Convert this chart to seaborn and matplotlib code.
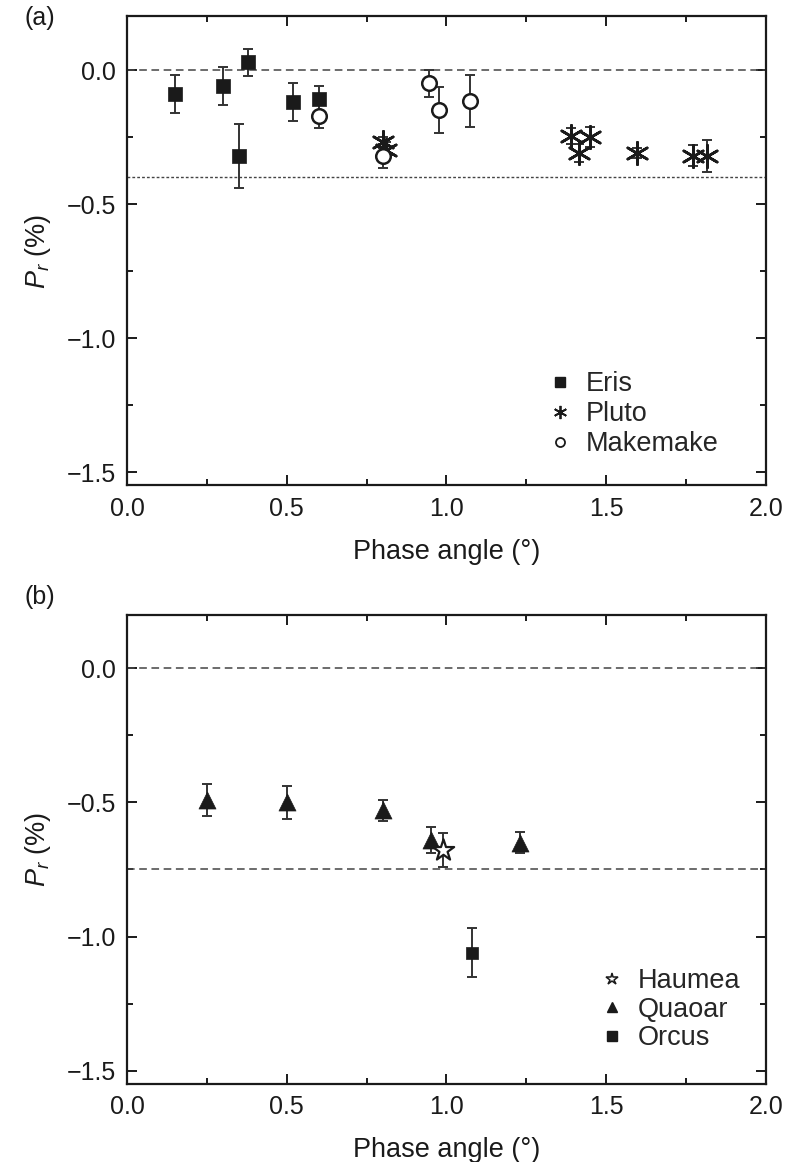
import matplotlib
matplotlib.use("Agg")
import matplotlib.pyplot as plt
from matplotlib.lines import Line2D
from matplotlib.ticker import MultipleLocator, FuncFormatter
import seaborn as sns
import pandas as pd

# ---------------- data ----------------
eris_x = [0.15, 0.30, 0.38, 0.35, 0.52, 0.60]
eris_y = [-0.09, -0.06, 0.028, -0.32, -0.12, -0.11]
eris_err = [0.07, 0.07, 0.05, 0.12, 0.07, 0.05]

pluto_x = [0.80, 0.81, 1.39, 1.415, 1.45, 1.595, 1.77, 1.815]
pluto_y = [-0.27, -0.30, -0.245, -0.31, -0.25, -0.31, -0.32, -0.32]
pluto_err = [0.02, 0.03, 0.03, 0.035, 0.037, 0.02, 0.04, 0.06]

make_x = [0.60, 0.80, 0.945, 0.975, 1.075]
make_y = [-0.17, -0.32, -0.05, -0.15, -0.115]
make_err = [0.045, 0.045, 0.05, 0.086, 0.096]

quaoar_x = [0.25, 0.50, 0.80, 0.95, 1.23]
quaoar_y = [-0.49, -0.50, -0.53, -0.64, -0.65]
quaoar_err = [0.06, 0.06, 0.04, 0.05, 0.04]

haumea_x = [0.99]
haumea_y = [-0.677]
haumea_err = [0.064]

orcus_x = [1.08]
orcus_y = [-1.06]
orcus_err = [0.092]

ref_lines_a = [0.0, -0.4]
ref_lines_b = [0.0, -0.75]

# ---------------- style ----------------
sns.set_theme(style="ticks")
plt.rcParams["font.family"] = ["Liberation Sans", "DejaVu Sans"]
plt.rcParams["mathtext.fontset"] = "custom"
plt.rcParams["mathtext.it"] = "Liberation Sans:italic"
plt.rcParams["mathtext.rm"] = "Liberation Sans"

W, H = 801, 1162
fig = plt.figure(figsize=(W / 100, H / 100), dpi=100)

def pos(l, t, r, b):
    return [l / W, 1 - b / H, (r - l) / W, (b - t) / H]

ax_a = fig.add_axes(pos(127, 16.4, 766, 485.4))
ax_b = fig.add_axes(pos(127, 614.7, 766, 1084))

K = "#1a1a1a"
EC = "#333333"

def errs(ax, x, y, e):
    ax.errorbar(x, y, yerr=e, fmt="none", ecolor=EC, elinewidth=1.4,
                capsize=3.6, capthick=1.4, zorder=2)

fmt = FuncFormatter(lambda v, p: f"{v:.1f}".replace("-", "\u2212"))

def style_axes(ax):
    ax.set_xlim(0, 2.0)
    ax.set_ylim(-1.55, 0.2)
    ax.xaxis.set_major_locator(MultipleLocator(0.5))
    ax.xaxis.set_minor_locator(MultipleLocator(0.25))
    ax.yaxis.set_major_locator(MultipleLocator(0.5))
    ax.yaxis.set_minor_locator(MultipleLocator(0.25))
    ax.xaxis.set_major_formatter(fmt)
    ax.yaxis.set_major_formatter(fmt)
    ax.tick_params(which="both", direction="in", top=True, right=True,
                   colors=K, width=1.4, labelsize=18, labelcolor=K)
    ax.tick_params(which="major", length=7, pad=8)
    ax.tick_params(which="minor", length=4)
    for s in ax.spines.values():
        s.set_linewidth(1.6)
        s.set_color(K)
    ax.set_xlabel("Phase angle (°)", fontsize=19.5, color=K, labelpad=13)
    ax.set_ylabel(r"$P_r$ (%)", fontsize=19.5, color=K, labelpad=10)

# ---------------- panel (a) ----------------
ax_a.axhline(ref_lines_a[0], color="#444444", lw=1.1, ls=(0, (5, 3)), zorder=1)
ax_a.axhline(ref_lines_a[1], color="#444444", lw=1.0, ls=(0, (2, 1.5)), zorder=1)

errs(ax_a, eris_x, eris_y, eris_err)
errs(ax_a, pluto_x, pluto_y, pluto_err)
errs(ax_a, make_x, make_y, make_err)

df_eris = pd.DataFrame({"x": eris_x, "y": eris_y})
df_pluto = pd.DataFrame({"x": pluto_x, "y": pluto_y})
df_make = pd.DataFrame({"x": make_x, "y": make_y})

sns.scatterplot(data=df_eris, x="x", y="y", ax=ax_a, marker="s", s=95,
                color=K, edgecolor=K, linewidth=0.5, zorder=3, legend=False)
sns.scatterplot(data=df_pluto, x="x", y="y", ax=ax_a, marker=(6, 2, 0), s=260,
                color=K, linewidth=1.9, zorder=3, legend=False)
sns.scatterplot(data=df_make, x="x", y="y", ax=ax_a, marker="o", s=110,
                facecolor="white", edgecolor=K, linewidth=1.8, zorder=4, legend=False)

style_axes(ax_a)

h_a = [
    Line2D([], [], ls="none", marker="s", ms=6.5, color=K, mec=K),
    Line2D([], [], ls="none", marker=(6, 2, 0), ms=9.5, color=K, mew=1.3),
    Line2D([], [], ls="none", marker="o", ms=6.5, mfc="white", mec=K, mew=1.3),
]
ax_a.legend(h_a, ["Eris", "Pluto", "Makemake"], loc="upper left",
            bbox_to_anchor=(549.5 / W, 1 - 371 / H), bbox_transform=fig.transFigure,
            frameon=False, fontsize=19.5, handlelength=0.8, handletextpad=0.55,
            labelspacing=0.15, borderpad=0, borderaxespad=0)

# ---------------- panel (b) ----------------
ax_b.axhline(ref_lines_b[0], color="#444444", lw=1.1, ls=(0, (5, 3)), zorder=1)
ax_b.axhline(ref_lines_b[1], color="#444444", lw=1.1, ls=(0, (5, 3)), zorder=1)

errs(ax_b, quaoar_x, quaoar_y, quaoar_err)
errs(ax_b, haumea_x, haumea_y, haumea_err)
errs(ax_b, orcus_x, orcus_y, orcus_err)

df_q = pd.DataFrame({"x": quaoar_x, "y": quaoar_y})
df_h = pd.DataFrame({"x": haumea_x, "y": haumea_y})
df_o = pd.DataFrame({"x": orcus_x, "y": orcus_y})

sns.scatterplot(data=df_q, x="x", y="y", ax=ax_b, marker="^", s=150,
                color=K, edgecolor=K, linewidth=0.5, zorder=3, legend=False)
sns.scatterplot(data=df_h, x="x", y="y", ax=ax_b, marker="*", s=260,
                facecolor="white", edgecolor=K, linewidth=1.6, zorder=4, legend=False)
sns.scatterplot(data=df_o, x="x", y="y", ax=ax_b, marker="s", s=75,
                color=K, edgecolor=K, linewidth=0.5, zorder=3, legend=False)

style_axes(ax_b)

h_b = [
    Line2D([], [], ls="none", marker="*", ms=9, mfc="white", mec=K, mew=1.1),
    Line2D([], [], ls="none", marker="^", ms=7.5, color=K, mec=K),
    Line2D([], [], ls="none", marker="s", ms=6.5, color=K, mec=K),
]
ax_b.legend(h_b, ["Haumea", "Quaoar", "Orcus"], loc="upper left",
            bbox_to_anchor=(601.5 / W, 1 - 968 / H), bbox_transform=fig.transFigure,
            frameon=False, fontsize=19.5, handlelength=0.8, handletextpad=0.55,
            labelspacing=0.1, borderpad=0, borderaxespad=0)

# panel labels
fig.text(25 / W, 1 - 18 / H, "(a)", fontsize=18, color=K, ha="left", va="center")
fig.text(25 / W, 1 - 597 / H, "(b)", fontsize=18, color=K, ha="left", va="center")

fig.savefig("out.png", dpi=100)
